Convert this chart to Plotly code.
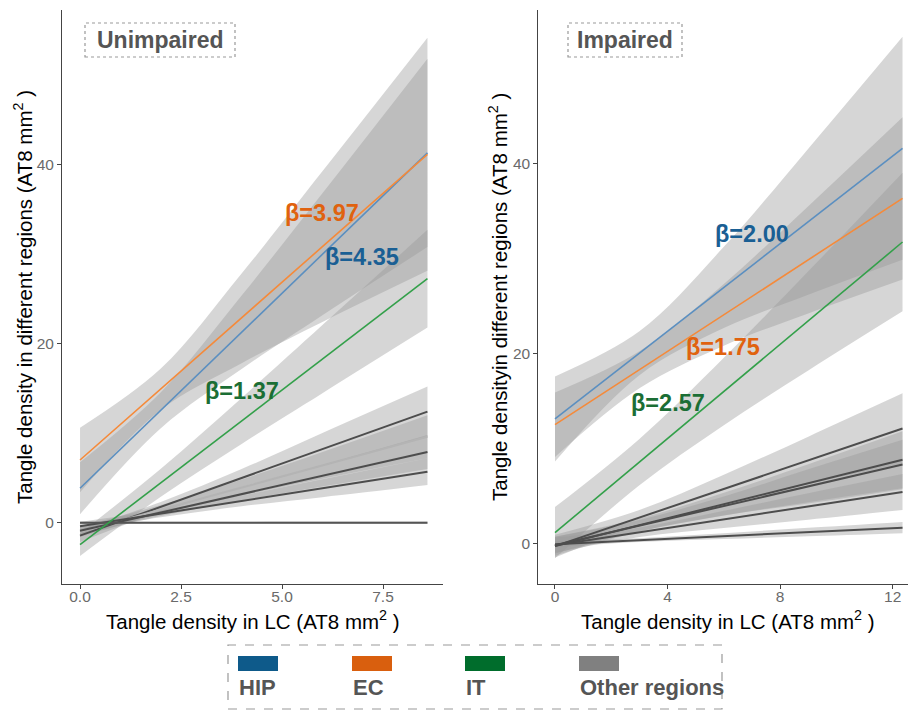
import plotly.graph_objects as go

W, H = 909, 711

# ---------------- data ----------------
# Unimpaired panel (x = tangle density in LC)
x_unimp = [0, 2, 4, 6, 8.6]
unimp_hip = [3.85, 12.55, 21.25, 29.95, 41.26]
unimp_hip_hw = [2.9, 2.0, 4.1, 6.8, 10.5]
unimp_ec = [7.0, 14.9, 22.8, 30.8, 41.1]
unimp_ec_hw = [3.6, 2.3, 5.0, 8.4, 13.0]
unimp_it = [-2.44, 4.46, 11.36, 18.26, 27.23]
unimp_it_hw = [1.26, 1.57, 2.57, 3.8, 5.45]
unimp_other = [
    [-1.44, 1.78, 5.0, 8.22, 12.4],
    [-1.0, 1.47, 3.93, 6.4, 9.6],
    [-0.9, 1.15, 3.19, 5.24, 7.9],
    [-0.4, 1.02, 2.44, 3.85, 5.7],
    [0.0, 0.0, 0.0, 0.0, 0.0],
]
unimp_other_hw = [
    [0.7, 0.55, 1.0, 1.8, 2.8],
    [0.6, 0.5, 0.9, 1.5, 2.4],
    [0.5, 0.4, 0.7, 1.2, 1.9],
    [0.5, 0.4, 0.6, 1.0, 1.5],
    [0.15, 0.12, 0.12, 0.14, 0.15],
]
unimp_other_colors = ["#4d4d4d", "#b4b4b4", "#4d4d4d", "#4d4d4d", "#555555"]

# Impaired panel
x_imp = [0, 3, 6, 9, 12.35]
imp_hip = [13.1, 20.03, 26.96, 33.89, 41.63]
imp_hip_hw = [4.49, 2.31, 4.28, 7.7, 11.75]
imp_ec = [12.5, 18.29, 24.08, 29.87, 36.34]
imp_ec_hw = [3.4, 1.95, 3.25, 5.65, 8.55]
imp_it = [1.12, 8.56, 16.0, 23.44, 31.75]
imp_it_hw = [2.7, 2.44, 3.55, 5.22, 7.3]
imp_other = [
    [-0.3, 2.71, 5.72, 8.74, 12.1],
    [-0.3, 1.91, 4.12, 6.33, 8.8],
    [-0.2, 1.86, 3.93, 5.99, 8.3],
    [-0.2, 1.16, 2.52, 3.88, 5.4],
    [-0.1, 0.33, 0.75, 1.18, 1.65],
]
imp_other_hw = [
    [1.2, 0.8, 1.5, 2.5, 3.7],
    [1.0, 0.7, 1.2, 2.0, 3.0],
    [0.9, 0.6, 1.0, 1.8, 2.6],
    [0.8, 0.5, 0.9, 1.4, 1.9],
    [0.3, 0.2, 0.3, 0.45, 0.6],
]
imp_other_colors = ["#4d4d4d"] * 5

# beta labels: (text, x, y, colour)
unimp_betas = [("β=3.97", 5.99, 34.6, "#e0620f"),
               ("β=4.35", 6.98, 29.7, "#1a5f94"),
               ("β=1.37", 4.0, 14.7, "#1b6e35")]
imp_betas = [("β=2.00", 7.0, 32.6, "#1a5f94"),
             ("β=1.75", 5.98, 20.7, "#e0620f"),
             ("β=2.57", 4.0, 14.8, "#1b6e35")]

legend_labels = ["HIP", "EC", "IT", "Other regions"]
legend_colors = ["#0e5a8a", "#d95f0e", "#006d2c", "#808080"]

line_hip = "#5b8fc0"
line_ec = "#f58a3a"
line_it = "#33a04a"
ribbon_fill = "rgba(153,153,153,0.4)"

FONT = "Liberation Sans, Arial, Helvetica, sans-serif"

fig = go.Figure()


def add_ribbon(x, fit, hw, xa, ya):
    lo = [f - h for f, h in zip(fit, hw)]
    hi = [f + h for f, h in zip(fit, hw)]
    fig.add_trace(go.Scatter(x=x, y=lo, mode="lines", line=dict(width=0, shape="spline"),
                             hoverinfo="skip", showlegend=False, xaxis=xa, yaxis=ya))
    fig.add_trace(go.Scatter(x=x, y=hi, mode="lines", line=dict(width=0, shape="spline"),
                             fill="tonexty", fillcolor=ribbon_fill,
                             hoverinfo="skip", showlegend=False, xaxis=xa, yaxis=ya))


def add_line(x, fit, color, xa, ya, width=1.6):
    fig.add_trace(go.Scatter(x=x, y=fit, mode="lines", line=dict(color=color, width=width),
                             showlegend=False, xaxis=xa, yaxis=ya))


# ribbons
for fit, hw in zip(unimp_other, unimp_other_hw):
    add_ribbon(x_unimp, fit, hw, "x", "y")
add_ribbon(x_unimp, unimp_hip, unimp_hip_hw, "x", "y")
add_ribbon(x_unimp, unimp_ec, unimp_ec_hw, "x", "y")
add_ribbon(x_unimp, unimp_it, unimp_it_hw, "x", "y")

for fit, hw in zip(imp_other, imp_other_hw):
    add_ribbon(x_imp, fit, hw, "x2", "y2")
add_ribbon(x_imp, imp_hip, imp_hip_hw, "x2", "y2")
add_ribbon(x_imp, imp_ec, imp_ec_hw, "x2", "y2")
add_ribbon(x_imp, imp_it, imp_it_hw, "x2", "y2")

# lines
for fit, c in zip(unimp_other, unimp_other_colors):
    add_line(x_unimp, fit, c, "x", "y", 2)
add_line(x_unimp, unimp_hip, line_hip, "x", "y")
add_line(x_unimp, unimp_ec, line_ec, "x", "y")
add_line(x_unimp, unimp_it, line_it, "x", "y")

for fit, c in zip(imp_other, imp_other_colors):
    add_line(x_imp, fit, c, "x2", "y2", 2)
add_line(x_imp, imp_hip, line_hip, "x2", "y2")
add_line(x_imp, imp_ec, line_ec, "x2", "y2")
add_line(x_imp, imp_it, line_it, "x2", "y2")

annotations = []
for t, x, y, c in unimp_betas:
    annotations.append(dict(text="<b>%s</b>" % t, x=x, y=y, xref="x", yref="y", showarrow=False,
                            font=dict(family=FONT, size=23.5, color=c), xanchor="center", yanchor="middle"))
for t, x, y, c in imp_betas:
    annotations.append(dict(text="<b>%s</b>" % t, x=x, y=y, xref="x2", yref="y2", showarrow=False,
                            font=dict(family=FONT, size=23.5, color=c), xanchor="center", yanchor="middle"))


def px(xp):
    return xp / W


def py(yp):
    return 1 - yp / H


shapes = []
# panel title boxes
for (x0, x1, label) in [(85, 235, "Unimpaired"), (568, 682, "Impaired")]:
    shapes.append(dict(type="rect", xref="paper", yref="paper", x0=px(x0), x1=px(x1), y0=py(57), y1=py(23),
                       line=dict(color="#999999", width=1.2, dash="dot"), fillcolor="white", layer="above"))
    annotations.append(dict(text="<b>%s</b>" % label, x=px((x0 + x1) / 2), y=py(40), xref="paper", yref="paper",
                            showarrow=False, font=dict(family=FONT, size=23, color="#555555"),
                            xanchor="center", yanchor="middle"))

# axis titles
title_font = dict(family=FONT, size=20.5, color="black")
annotations.append(dict(text="Tangle density in LC (AT8 mm<sup>2</sup> )", x=px(252.5), y=py(620),
                        xref="paper", yref="paper", showarrow=False, font=title_font,
                        xanchor="center", yanchor="middle"))
annotations.append(dict(text="Tangle density in LC (AT8 mm<sup>2</sup> )", x=px(728), y=py(620),
                        xref="paper", yref="paper", showarrow=False, font=title_font,
                        xanchor="center", yanchor="middle"))
annotations.append(dict(text="Tangle density in different regions (AT8 mm<sup>2</sup> )", x=px(23), y=py(297),
                        xref="paper", yref="paper", showarrow=False, font=title_font, textangle=-90,
                        xanchor="center", yanchor="middle"))
annotations.append(dict(text="Tangle densityin different regions (AT8 mm<sup>2</sup> )", x=px(498), y=py(297),
                        xref="paper", yref="paper", showarrow=False, font=title_font, textangle=-90,
                        xanchor="center", yanchor="middle"))

# legend
shapes.append(dict(type="rect", xref="paper", yref="paper", x0=px(228), x1=px(722), y0=py(709), y1=py(645),
                   line=dict(color="#999999", width=1.2, dash="dash")))
leg_x = [238, 352, 465, 579]
for lx, lab, col in zip(leg_x, legend_labels, legend_colors):
    shapes.append(dict(type="rect", xref="paper", yref="paper", x0=px(lx), x1=px(lx + 40), y0=py(671), y1=py(656),
                       line=dict(width=0), fillcolor=col))
    annotations.append(dict(text="<b>%s</b>" % lab, x=px(lx - 1), y=py(687), xref="paper", yref="paper",
                            showarrow=False, font=dict(family=FONT, size=22, color="#555555"),
                            xanchor="left", yanchor="middle"))

axis_common = dict(showgrid=False, zeroline=False, showline=True, linecolor="#444444", linewidth=1,
                   ticks="outside", ticklen=4, tickcolor="#444444", automargin=False,
                   tickfont=dict(family=FONT, size=15.5, color="#6a6a6a"))

fig.update_layout(
    width=W, height=H,
    margin=dict(l=0, r=0, t=0, b=0, autoexpand=False),
    paper_bgcolor="white", plot_bgcolor="white",
    showlegend=False,
    xaxis=dict(domain=[62 / W, 443 / W], range=[-0.446, 8.985], anchor="y", ticklabelstandoff=-6,
               tickvals=[0, 2.5, 5, 7.5], ticktext=["0.0", "2.5", "5.0", "7.5"], **axis_common),
    yaxis=dict(domain=[1 - 584 / H, 1 - 10 / H], range=[-6.83, 57.2], anchor="x",
               tickvals=[0, 20, 40], **axis_common),
    xaxis2=dict(domain=[538.3 / W, 908.3 / W], range=[-0.593, 12.555], anchor="y2", ticklabelstandoff=-6,
                tickvals=[0, 4, 8, 12], **axis_common),
    yaxis2=dict(domain=[1 - 584 / H, 1 - 10 / H], range=[-4.29, 56.2], anchor="x2",
                tickvals=[0, 20, 40], **axis_common),
    annotations=annotations,
    shapes=shapes,
)

fig.write_html("out.html", config={"displayModeBar": False},
               post_script="document.body.style.margin='0';document.body.style.overflow='hidden';")
